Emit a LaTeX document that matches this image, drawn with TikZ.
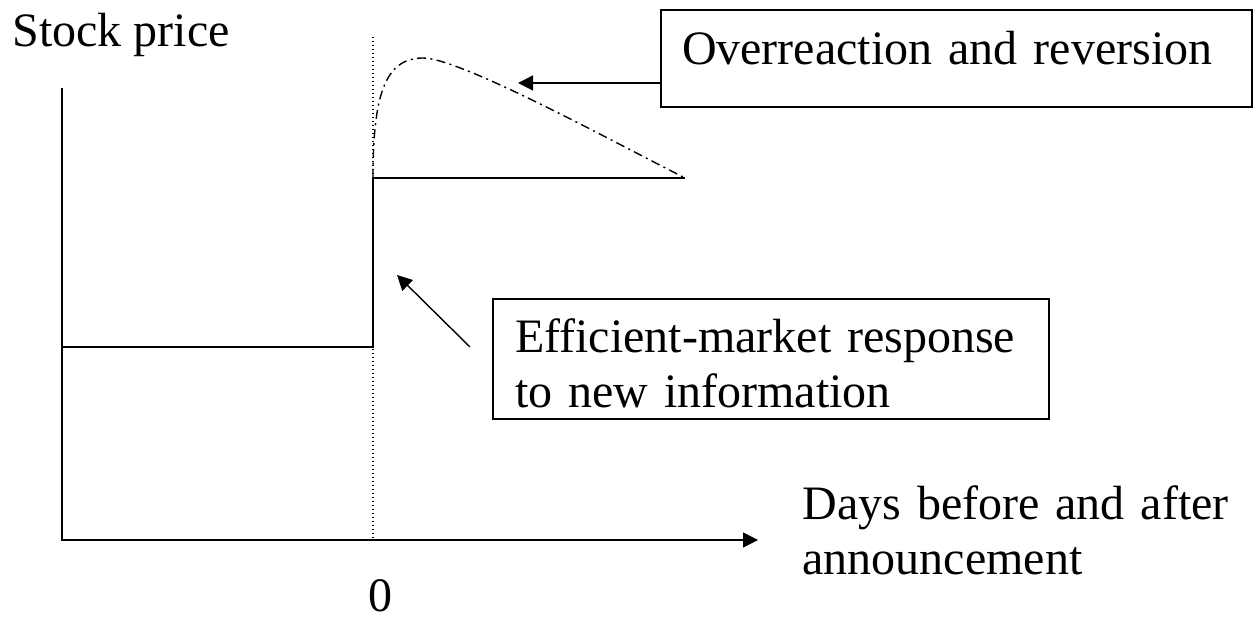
\documentclass[tikz,border=0pt]{standalone}
\usepackage{fontspec}
\setmainfont{Liberation Serif}
\usetikzlibrary{positioning,arrows.meta}
\tikzset{
  axisline/.style={line width=0.7pt},
  pointer/.style={line width=0.7pt,-{Triangle[length=7.5pt,width=7.5pt]}},
  zeroline/.style={line width=0.6pt,dash pattern=on 0.7pt off 1.3pt},
  overshoot/.style={line width=0.7pt,dash pattern=on 4.5pt off 2.2pt on 1pt off 2.2pt},
  notebox/.style={draw,line width=0.7pt,anchor=north west,outer sep=0pt,inner ysep=0pt,align=left}
}

\begin{document}
\begin{tikzpicture}[x=0.5pt,y=-0.5pt,font={\fontsize{24pt}{27.5pt}\selectfont}]
  \useasboundingbox (0,0) rectangle (1253,619);

  % axes and the announcement day
  \coordinate (ytop) at (62,88);
  \coordinate (origin) at (62,540);
  \coordinate (xend) at (758,540);
  \coordinate (daytop) at (373,37);
  \coordinate (daybot) at (373,540);

  % price path
  \coordinate (before) at (62,347);
  \coordinate (jumplow) at (373,347);
  \coordinate (jumphigh) at (373,178);
  \coordinate (after) at (685,178);
  \coordinate (peak) at (423,58);

  % pointer ends
  \coordinate (overtip) at (518,83);
  \coordinate (efftail) at (470,347);
  \coordinate (efftip) at (397,275);

  \node[anchor=base west,inner sep=0pt] (ylabel) at (12,47) {Stock price};
  \node[anchor=base west,inner sep=0pt,text width=220pt,align=left] (xlabel) at (802,520)
    {Days before and after\\announcement};
  \node[anchor=base,inner sep=0pt] (zero) at (380,611) {0};

  \node[notebox,text width=274.5pt,inner xsep=10.5pt,text height=27.5pt,text depth=21pt] (overbox) at (661,10)
    {Overreaction and reversion};
  \node[notebox,text width=256pt,inner xsep=11pt,text height=27pt,text depth=33pt] (effbox) at (493,299)
    {Efficient-market response\\to new information};

  \draw[pointer] (ytop) -- (origin) -- (xend);
  \draw[zeroline] (daytop) -- (daybot);
  \draw[axisline] (before) -- (jumplow) -- (jumphigh) -- (after);
  \draw[overshoot] (jumphigh) .. controls (373,95) and (385,58) .. (peak)
    .. controls (460,58) and (610,140) .. (after);

  \draw[pointer] (overbox.west |- overtip) -- (overtip);
  \draw[pointer] (efftail) -- (efftip);
\end{tikzpicture}
\end{document}
